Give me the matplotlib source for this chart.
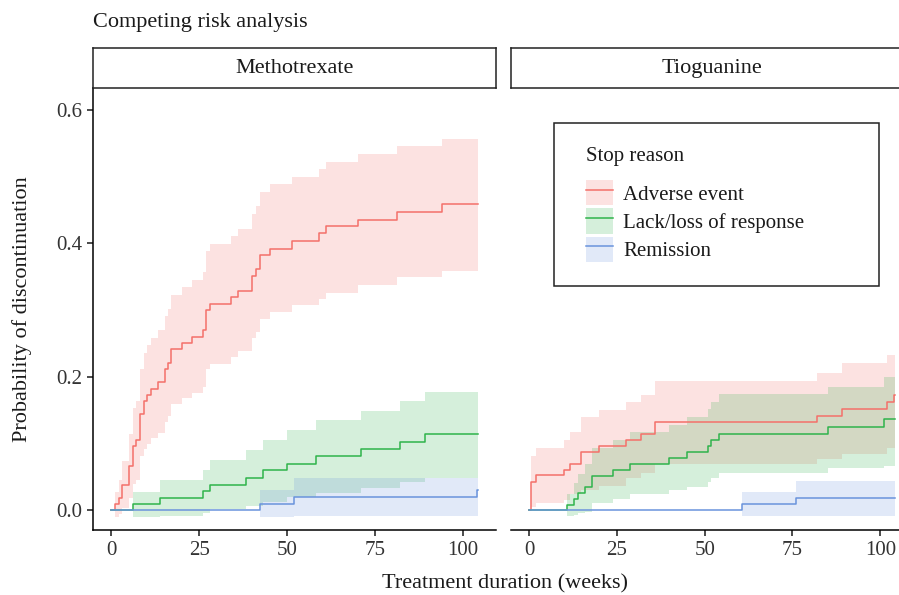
"""Competing risk analysis: cumulative incidence of discontinuation by stop reason."""

import matplotlib
matplotlib.use("Agg")
import matplotlib.pyplot as plt
from matplotlib.lines import Line2D
from matplotlib.patches import Patch, Rectangle

plt.rcParams["font.family"] = ["Liberation Serif", "DejaVu Serif"]

reasons = ["Adverse event", "Lack/loss of response", "Remission"]
colors = ["#F4706A", "#2FB34B", "#6A93DC"]
panels = ["Methotrexate", "Tioguanine"]
x_ticks = [0, 25, 50, 75, 100]
y_ticks = [0.0, 0.2, 0.4, 0.6]

# Methotrexate
mtx_ae_time = [0, 0.95, 2.1, 3.1, 5.1, 6.25, 7.1, 8.1, 9.2, 10.2, 11.2, 13.2, 15.2,
               16.1, 17.1, 20.1, 23.0, 26.0, 27.1, 28.0, 34.1, 36.2, 40.1, 41.2,
               42.2, 45.2, 51.3, 59.2, 61.1, 70.1, 81.2, 94.2, 104.3]
mtx_ae_est = [0, 0.009, 0.019, 0.038, 0.066, 0.096, 0.105, 0.144, 0.163, 0.173,
              0.182, 0.192, 0.211, 0.221, 0.241, 0.250, 0.260, 0.270, 0.300, 0.309,
              0.319, 0.329, 0.351, 0.361, 0.382, 0.392, 0.403, 0.415, 0.426, 0.435,
              0.447, 0.458, 0.458]
mtx_ae_upper = [0, 0.028, 0.045, 0.074, 0.115, 0.153, 0.164, 0.211, 0.235, 0.247,
                0.258, 0.270, 0.291, 0.302, 0.323, 0.335, 0.345, 0.357, 0.388, 0.399,
                0.411, 0.422, 0.444, 0.456, 0.477, 0.489, 0.499, 0.511, 0.522, 0.533,
                0.545, 0.556, 0.556]
mtx_ae_lower = [0, -0.010, -0.006, 0.003, 0.019, 0.040, 0.046, 0.081, 0.092, 0.099,
                0.108, 0.116, 0.132, 0.141, 0.159, 0.168, 0.176, 0.185, 0.211, 0.219,
                0.229, 0.238, 0.258, 0.267, 0.287, 0.297, 0.307, 0.317, 0.326, 0.337,
                0.349, 0.358, 0.358]

mtx_lack_time = [0, 6.2, 14.0, 26.1, 28.2, 38.3, 43.2, 50.1, 58.2, 71.2, 82.1, 89.2, 104.3]
mtx_lack_est = [0, 0.009, 0.019, 0.029, 0.038, 0.049, 0.060, 0.070, 0.081, 0.092,
                0.103, 0.114, 0.114]
mtx_lack_upper = [0, 0.028, 0.045, 0.060, 0.075, 0.091, 0.106, 0.120, 0.135, 0.149,
                  0.163, 0.177, 0.177]
mtx_lack_lower = [0, -0.010, -0.008, -0.004, 0.002, 0.006, 0.013, 0.020, 0.026, 0.034,
                  0.042, 0.049, 0.049]

mtx_rem_time = [0, 42.2, 52.1, 104.0, 104.3]
mtx_rem_est = [0, 0.009, 0.020, 0.031, 0.031]
mtx_rem_upper = [0, 0.030, 0.049, 0.049, 0.049]
mtx_rem_lower = [0, -0.010, -0.008, -0.008, -0.008]

# Tioguanine
tg_ae_time = [0, 0.66, 1.9, 9.9, 11.8, 14.9, 19.9, 27.7, 31.9, 35.8, 81.9, 89.0,
              101.9, 104.0, 104.3]
tg_ae_est = [0, 0.043, 0.053, 0.061, 0.070, 0.088, 0.096, 0.106, 0.114, 0.132,
             0.141, 0.152, 0.162, 0.172, 0.172]
tg_ae_upper = [0, 0.081, 0.093, 0.105, 0.117, 0.140, 0.150, 0.162, 0.173, 0.194,
               0.206, 0.220, 0.232, 0.232, 0.232]
tg_ae_lower = [0, 0.005, 0.011, 0.016, 0.025, 0.031, 0.036, 0.049, 0.056, 0.069,
               0.077, 0.085, 0.094, 0.094, 0.094]

tg_lack_time = [0, 10.8, 12.8, 14.0, 15.9, 17.9, 23.9, 28.8, 39.9, 44.9, 51.0, 51.9,
                54.0, 85.0, 101.0, 104.3]
tg_lack_est = [0, 0.008, 0.017, 0.026, 0.035, 0.052, 0.061, 0.070, 0.079, 0.088,
               0.096, 0.106, 0.115, 0.125, 0.136, 0.136]
tg_lack_upper = [0, 0.025, 0.041, 0.055, 0.069, 0.094, 0.105, 0.117, 0.128, 0.140,
                 0.151, 0.162, 0.174, 0.185, 0.200, 0.200]
tg_lack_lower = [0, -0.009, -0.007, -0.004, -0.002, 0.011, 0.017, 0.024, 0.030, 0.035,
                 0.042, 0.049, 0.056, 0.063, 0.066, 0.066]

tg_rem_time = [0, 60.7, 75.9, 104.3]
tg_rem_est = [0, 0.009, 0.019, 0.019]
tg_rem_upper = [0, 0.027, 0.044, 0.044]
tg_rem_lower = [0, -0.009, -0.008, -0.008]

curves = {
    "Methotrexate": [
        (mtx_ae_time, mtx_ae_est, mtx_ae_lower, mtx_ae_upper),
        (mtx_lack_time, mtx_lack_est, mtx_lack_lower, mtx_lack_upper),
        (mtx_rem_time, mtx_rem_est, mtx_rem_lower, mtx_rem_upper),
    ],
    "Tioguanine": [
        (tg_ae_time, tg_ae_est, tg_ae_lower, tg_ae_upper),
        (tg_lack_time, tg_lack_est, tg_lack_lower, tg_lack_upper),
        (tg_rem_time, tg_rem_est, tg_rem_lower, tg_rem_upper),
    ],
}

W, H = 899, 595
TEXT = "#1a1a1a"
TICK = "#333333"


def fx(px):
    return px / W


def fy(py):
    return 1 - py / H


fig = plt.figure(figsize=(W / 100, H / 100), dpi=100)

panel_w = 403
panel_left = [93, 510.7]
panel_top, panel_bottom = 88.3, 530
strip_top = 48.3

for i, (name, left) in enumerate(zip(panels, panel_left)):
    ax = fig.add_axes([fx(left), fy(panel_bottom), panel_w / W,
                       (panel_bottom - panel_top) / H])
    for (t, est, lo, hi), color in zip(curves[name], colors):
        ax.fill_between(t, lo, hi, step="post", color=color, alpha=0.2,
                        linewidth=0)
    for (t, est, lo, hi), color in zip(curves[name], colors):
        ax.step(t, est, where="post", color=color, linewidth=1.1)
    ax.set_xlim(-5.2, 109.5)
    ax.set_ylim(-0.0295, 0.632)
    ax.set_xticks(x_ticks)
    ax.set_xticklabels([str(v) for v in x_ticks])
    ax.spines[["top", "right"]].set_visible(False)
    ax.spines["bottom"].set_linewidth(1.1)
    ax.spines["left"].set_linewidth(1.1)
    ax.tick_params(axis="both", length=4, width=1.1, color=TEXT,
                   labelcolor=TICK, labelsize=15, pad=4)
    if i == 0:
        ax.set_yticks(y_ticks)
        ax.set_yticklabels([f"{v:.1f}" for v in y_ticks])
    else:
        ax.spines["left"].set_visible(False)
        ax.set_yticks([])

    strip = fig.add_axes([fx(left), fy(panel_top), panel_w / W,
                          (panel_top - strip_top) / H])
    strip.set_xticks([])
    strip.set_yticks([])
    for sp in strip.spines.values():
        sp.set_linewidth(1.1)
        sp.set_color("#222222")
    strip.text(0.5, 0.5, name, ha="center", va="center", fontsize=16,
               color=TEXT, transform=strip.transAxes)

fig.text(fx(93), fy(22), "Competing risk analysis", ha="left", va="center",
         fontsize=16, color=TEXT)
fig.text(fx(22), fy(309), "Probability of discontinuation", rotation=90,
         ha="center", va="center", fontsize=16, color=TEXT)
fig.text(fx(505), fy(584), "Treatment duration (weeks)", ha="center",
         va="center", fontsize=16, color=TEXT)

# legend frame, title and keys
fig.patches.append(Rectangle((fx(554), fy(286)), 325 / W, 163 / H,
                             transform=fig.transFigure, fill=False,
                             edgecolor="#222222", linewidth=1.1))
fig.text(fx(586), fy(157), "Stop reason", ha="left", va="center",
         fontsize=15, color=TEXT)
handles = [(Patch(facecolor=c, alpha=0.2, linewidth=0),
            Line2D([], [], color=c, linewidth=1.1)) for c in colors]
fs = 15
px_per_fs = fs * 100 / 72
leg = fig.legend(handles, reasons, loc="upper left",
                 bbox_to_anchor=(fx(586), fy(180)), frameon=False,
                 fontsize=fs, borderpad=0,
                 borderaxespad=0, handlelength=27 / px_per_fs,
                 handleheight=31 / px_per_fs, labelspacing=3 / px_per_fs,
                 handletextpad=10 / px_per_fs)
for txt in leg.get_texts():
    txt.set_color(TEXT)

fig.savefig("out.png", dpi=100)
